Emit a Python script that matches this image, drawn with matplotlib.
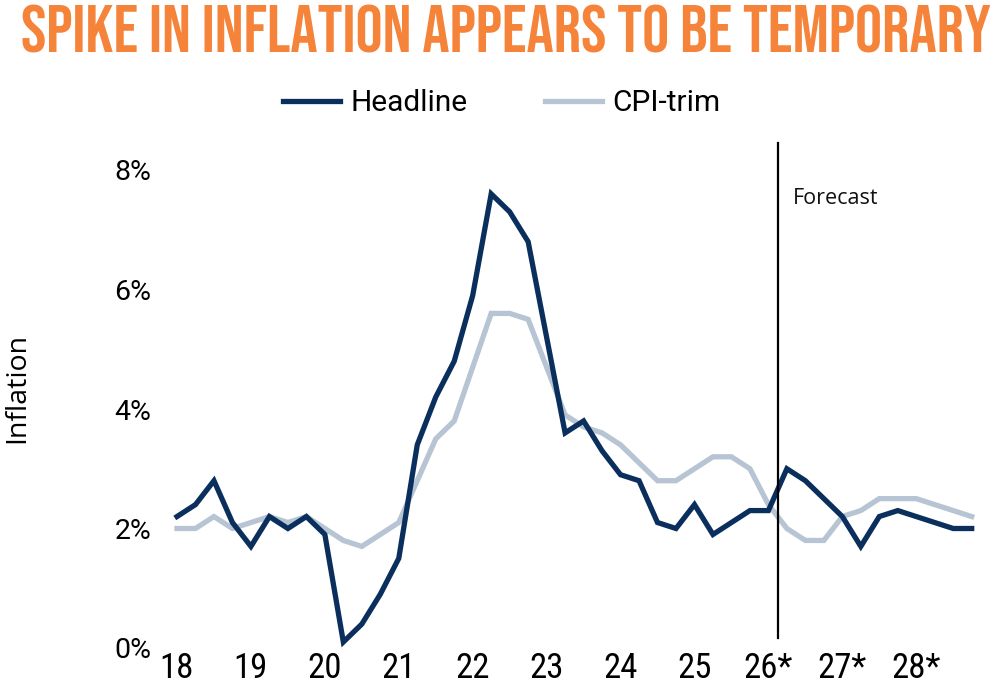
import matplotlib
matplotlib.use("Agg")
import matplotlib.pyplot as plt
from matplotlib import font_manager as fm

# ---- data (quarterly, 2018Q1 .. 2028Q4) ----
headline = [2.2, 2.4, 2.8, 2.1, 1.7, 2.2, 2.0, 2.2, 1.9, 0.1,
            0.4, 0.9, 1.5, 3.4, 4.2, 4.8, 5.9, 7.6, 7.3, 6.8,
            5.2, 3.6, 3.8, 3.3, 2.9, 2.8, 2.1, 2.0, 2.4, 1.9,
            2.1, 2.3, 2.3, 3.0, 2.8, 2.5, 2.2, 1.7, 2.2, 2.3,
            2.2, 2.1, 2.0, 2.0]
cpi_trim = [2.0, 2.0, 2.2, 2.0, 2.1, 2.2, 2.1, 2.2, 2.0, 1.8,
            1.7, 1.9, 2.1, 2.8, 3.5, 3.8, 4.7, 5.6, 5.6, 5.5,
            4.7, 3.9, 3.7, 3.6, 3.4, 3.1, 2.8, 2.8, 3.0, 3.2,
            3.2, 3.0, 2.4, 2.0, 1.8, 1.8, 2.2, 2.3, 2.5, 2.5,
            2.5, 2.4, 2.3, 2.2]
year_labels = ["18", "19", "20", "21", "22", "23", "24", "25", "26*", "27*", "28*"]
y_ticks = [0, 2, 4, 6, 8]
y_tick_labels = ["0%", "2%", "4%", "6%", "8%"]
forecast_start = 32.5  # between 2026Q1 and 2026Q2
title = "SPIKE IN INFLATION APPEARS TO BE TEMPORARY"

NAVY = "#0b2f5d"
GREY = "#b7c4d3"
ORANGE = "#f5843a"

AVAIL = {f.name for f in fm.fontManager.ttflist}
def pick(*names):
    for n in names:
        if n in AVAIL:
            return n
    return "DejaVu Sans"

title_font = pick("Bebas Neue", "Oswald", "League Gothic", "Anton", "Fjalla One")
narrow = pick("Roboto Condensed", "PT Sans Narrow", "Archivo Narrow", "Liberation Sans Narrow")
roboto = pick("Roboto", "DejaVu Sans")
opens = pick("Open Sans", "DejaVu Sans")

W, H = 1000, 688
fig = plt.figure(figsize=(W / 100, H / 100), dpi=100)

# axes placement in pixels
x0_px, x43_px = 177.0, 971.7
ppu = (x43_px - x0_px) / 43.0
xmin, xmax = -0.4, 43.4
left_px = x0_px + xmin * ppu
right_px = x0_px + xmax * ppu
y0_px, y8_px = 648.0, 170.0
ppy = (y0_px - y8_px) / 8.0
top_px = 143.0
ymax = (y0_px - top_px) / ppy
ax = fig.add_axes([left_px / W, (H - y0_px) / H, (right_px - left_px) / W, (y0_px - top_px) / H])
ax.set_xlim(xmin, xmax)
ax.set_ylim(0, ymax)

x = list(range(len(headline)))
ax.plot(x, cpi_trim, color=GREY, lw=3.8, solid_joinstyle="miter", label="CPI-trim", zorder=2)
ax.plot(x, headline, color=NAVY, lw=3.8, solid_joinstyle="miter", label="Headline", zorder=3)

# forecast divider
ax.plot([forecast_start, forecast_start], [(y0_px - 638) / ppy, ymax], color="black", lw=1.6,
        clip_on=False, zorder=4)
ax.text(forecast_start + 0.85, (y0_px - 198) / ppy, "Forecast", fontsize=15.5, family=opens,
        va="center", ha="left", color="#111111")

for s in ax.spines.values():
    s.set_visible(False)
ax.set_xticks(list(range(0, 44, 4)))
ax.set_xticklabels(year_labels, family=narrow, fontsize=25)
ax.set_yticks(y_ticks)
ax.set_yticklabels(y_tick_labels, family=roboto, fontsize=20.5)
ax.tick_params(axis="both", length=0)
ax.tick_params(axis="x", pad=3)
ax.tick_params(axis="y", pad=13)
ax.set_ylabel("Inflation", family=opens, fontsize=20.5, labelpad=0)
ax.yaxis.set_label_coords(-(left_px - 31) / (right_px - left_px), (y0_px - 388) / (y0_px - top_px))

# legend
h = [ax.lines[1], ax.lines[0]]
leg = fig.legend(h, ["Headline", "CPI-trim"], loc="center", bbox_to_anchor=(0.502, 1 - 103 / H),
                 ncol=2, frameon=False, prop={"family": roboto, "size": 21.5},
                 handlelength=1.9, handletextpad=0.35, columnspacing=2.6, borderpad=0)
for l in leg.get_lines():
    l.set_linewidth(3.8)

# title, fitted to width
t = fig.text(0.506, 1 - 29 / H, title, ha="center", va="center", color=ORANGE,
             family=title_font, weight="bold", fontsize=40)
fig.canvas.draw()
bb = t.get_window_extent()
t.set_fontsize(40 * 968 / bb.width)

fig.savefig("out.png", dpi=100)
